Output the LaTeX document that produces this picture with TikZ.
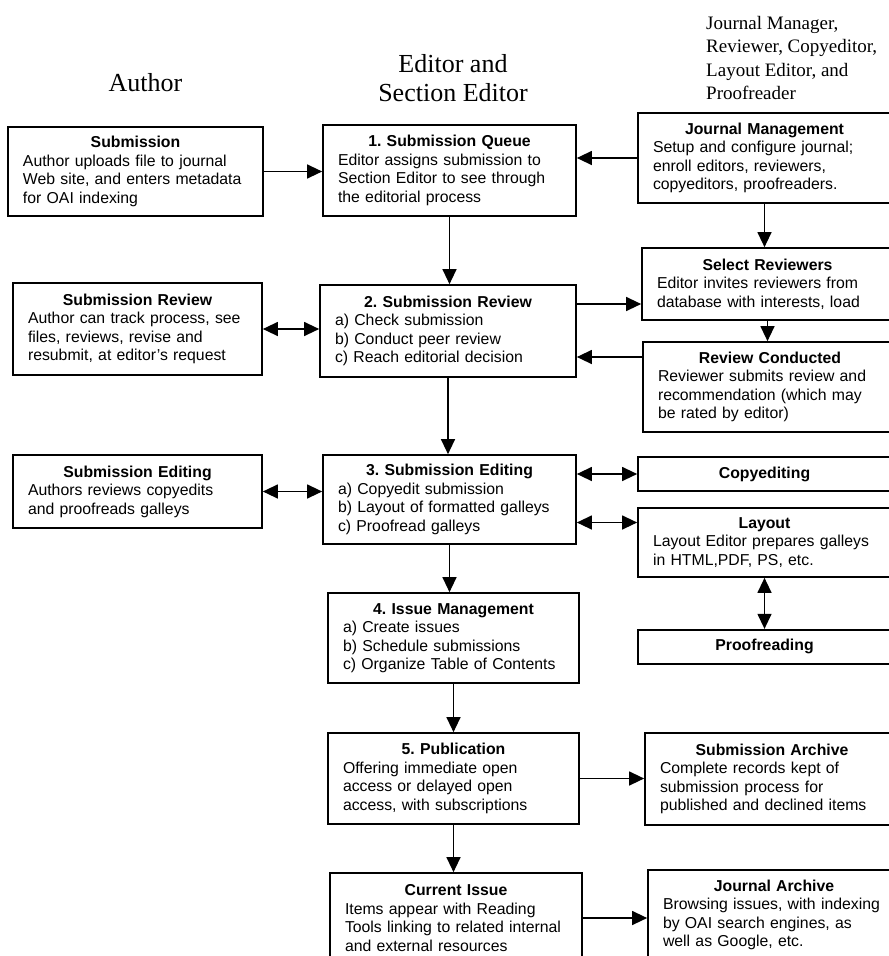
\documentclass[tikz,border=0pt]{standalone}
\usepackage{fontspec}
\setmainfont{Liberation Sans}
\newfontfamily\headfont{Liberation Serif}
\usetikzlibrary{arrows.meta, positioning}
\frenchspacing

\newcommand{\boxtitle}[1]{\makebox[\linewidth][c]{\bfseries #1}}

\begin{document}
\begin{tikzpicture}[x=1pt, y=-1pt,
    procbox/.style={rectangle, draw, line width=1.7pt, inner xsep=15pt, inner ysep=0pt, text width=#1, align=left, font=\fontsize{15.8}{18.5}\selectfont},
    procbox/.default=223pt,
    arr/.style={-{Triangle[length=15pt, width=14pt]}, line width=1.3pt},
    dblarr/.style={{Triangle[length=15pt, width=14pt]}-{Triangle[length=15pt, width=14pt]}, line width=1.3pt},
    role/.style={inner sep=0pt, align=center, font=\headfont\fontsize{26}{29}\selectfont}]
    \useasboundingbox (0,0) rectangle (889,956);

    % Roles
    \node[role, anchor=base] (author) at (145.5, 91) {Author};
    \node[role, anchor=north] (editor) at (453, 54) {Editor and\\Section Editor};
    \node[role, anchor=north west, align=left, font=\headfont\fontsize{19}{23.5}\selectfont] (others) at (706, 16) {Journal Manager,\\Reviewer, Copyeditor,\\Layout Editor, and\\Proofreader};

    % Author
    \node[procbox=225pt, minimum height=89pt] (sub) at (135.5, 171.5) {\boxtitle{Submission}\\Author uploads file to journal\\Web site, and enters metadata\\for OAI indexing};
    \node[procbox=219pt, minimum height=92pt] (subrev) at (137.5, 329) {\boxtitle{Submission Review}\\Author can track process, see\\files, reviews, revise and\\resubmit, at editor’s request};
    \node[procbox=219pt, minimum height=73pt] (subed) at (137.5, 491.5) {\boxtitle{Submission Editing}\\Authors reviews copyedits\\and proofreads galleys};

    % Editor and Section Editor
    \node[procbox, minimum height=91pt] (queue) at (449.5, 170.5) {\boxtitle{1. Submission Queue}\\Editor assigns submission to\\Section Editor to see through\\the editorial process};
    \node[procbox=226pt, minimum height=92pt] (rev) at (448, 331) {\boxtitle{2. Submission Review}\\a) Check submission\\b) Conduct peer review\\c) Reach editorial decision};
    \node[procbox, minimum height=89pt] (edit) at (449.5, 499.5) {\boxtitle{3. Submission Editing}\\a) Copyedit submission\\b) Layout of formatted galleys\\c) Proofread galleys};
    \node[procbox=221pt, minimum height=90pt] (issue) at (453.5, 638) {\boxtitle{4. Issue Management}\\a) Create issues\\b) Schedule submissions\\c) Organize Table of Contents};
    \node[procbox=221pt, minimum height=91pt] (pub) at (453.5, 778.5) {\boxtitle{5. Publication}\\Offering immediate open\\access or delayed open\\access, with subscriptions};
    \node[procbox=222pt, minimum height=90pt] (ci) at (456, 918) {\boxtitle{Current Issue}\\Items appear with Reading\\Tools linking to related internal\\and external resources};

    % Journal Manager, Reviewer, Copyeditor, ...
    \node[procbox, minimum height=90pt] (jm) at (764.5, 158) {\boxtitle{Journal Management}\\Setup and configure journal;\\enroll editors, reviewers,\\copyeditors, proofreaders.};
    \node[procbox=221pt, minimum height=72pt] (sr) at (767.5, 284) {\boxtitle{Select Reviewers}\\Editor invites reviewers from\\database with interests, load};
    \node[procbox=224pt, minimum height=90pt] (rc) at (770, 387) {\boxtitle{Review Conducted}\\Reviewer submits review and\\recommendation (which may\\be rated by editor)};
    \node[procbox, minimum height=34pt] (copy) at (764.5, 474) {\boxtitle{Copyediting}};
    \node[procbox, minimum height=69pt] (layout) at (764.5, 542.5) {\boxtitle{Layout}\\Layout Editor prepares galleys\\in HTML,PDF, PS, etc.};
    \node[procbox, minimum height=34pt, below=51pt of layout] (proof) {\boxtitle{Proofreading}};
    \node[procbox=224pt, minimum height=92pt] (sa) at (772, 779) {\boxtitle{Submission Archive}\\Complete records kept of\\submission process for\\published and declined items};
    \node[procbox=222pt, minimum height=90pt] (ja) at (774, 915) {\boxtitle{Journal Archive}\\Browsing issues, with indexing\\by OAI search engines, as\\well as Google, etc.};

    % Connectors
    \draw[arr] (sub.east) -- (sub.east -| queue.west);
    \draw[arr] (jm.west) -- (jm.west -| queue.east);
    \draw[arr] (queue.south) -- (queue.south |- rev.north);
    \draw[arr] (jm.south) -- (jm.south |- sr.north);
    \draw[arr] ([yshift=-20pt]sr.west -| rev.east) -- ([yshift=-20pt]sr.west);
    \draw[dblarr] (subrev.east) -- (subrev.east -| rev.west);
    \draw[arr] (sr.south) -- (sr.south |- rc.north);
    \draw[arr] ([yshift=30pt]rc.west) -- ([yshift=30pt]rc.west -| rev.east);
    \draw[arr] (rev.south) -- (rev.south |- edit.north);
    \draw[dblarr] (subed.east) -- (subed.east -| edit.west);
    \draw[dblarr] (edit.east |- copy.west) -- (copy.west);
    \draw[dblarr] ([yshift=20pt]layout.west -| edit.east) -- ([yshift=20pt]layout.west);
    \draw[dblarr] (layout) -- (proof);
    \draw[arr] (edit.south) -- (edit.south |- issue.north);
    \draw[arr] (issue) -- (pub);
    \draw[arr] (pub.east) -- (pub.east -| sa.west);
    \draw[arr] (pub.south) -- (pub.south |- ci.north);
    \draw[arr] (ci.east) -- (ci.east -| ja.west);
\end{tikzpicture}
\end{document}
